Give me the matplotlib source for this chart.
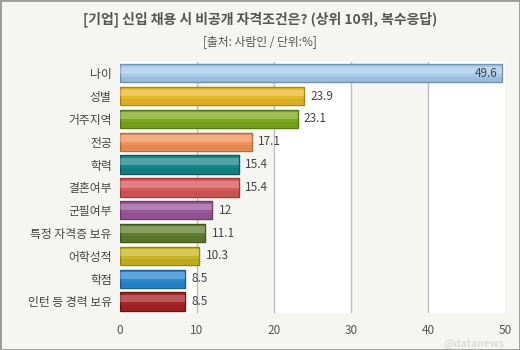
import numpy as np
import matplotlib
matplotlib.use("Agg")
import matplotlib.pyplot as plt

plt.rcParams['font.family'] = ['Noto Sans CJK KR', 'DejaVu Sans']

categories = ['나이', '성별', '거주지역', '전공', '학력', '결혼여부', '군필여부',
              '특정 자격증 보유', '어학성적', '학점', '인턴 등 경력 보유']
values = [49.6, 23.9, 23.1, 17.1, 15.4, 15.4, 12, 11.1, 10.3, 8.5, 8.5]
value_labels = ['49.6', '23.9', '23.1', '17.1', '15.4', '15.4', '12', '11.1', '10.3', '8.5', '8.5']
colors = ['#a8c8e8', '#e8b82c', '#7ca81c', '#f0925a', '#14868a', '#d65858',
          '#985898', '#5e7e2c', '#c8b424', '#2888d0', '#a42428']
edges = ['#6f93b5', '#b08410', '#567a0c', '#c06a38', '#0c5a5c', '#a43838',
         '#6c3a6c', '#3e5a1a', '#948410', '#185f98', '#701418']

bg = '#f5f5f2'
fig = plt.figure(figsize=(5.2, 3.5), dpi=100, facecolor=bg)
ax = fig.add_axes([0.2308, 0.106, 0.740, 0.717])
ax.set_facecolor('white')

# alternating bands
for lo in (10, 30):
    ax.axvspan(lo, lo + 10, color=bg, zorder=0, lw=0)
for x in (10, 20, 30, 40):
    ax.axvline(x, color='#bdbdbd', lw=1, zorder=1)

y = np.arange(len(categories))
ax.barh(y, values, height=0.8, color=colors, edgecolor=edges, linewidth=1, zorder=2)
# glossy highlight
ax.barh(y - 0.14, values, height=0.3, color='white', alpha=0.25, lw=0, zorder=3)
ax.barh(y + 0.25, values, height=0.22, color='black', alpha=0.06, lw=0, zorder=3)

for yi, v, lab in zip(y, values, value_labels):
    if v > 45:
        ax.text(v - 0.6, yi, lab, ha='right', va='center', fontsize=8.5, color='#444444', zorder=4)
    else:
        ax.text(v + 0.8, yi, lab, ha='left', va='center', fontsize=8.5, color='#444444', zorder=4)

ax.set_xlim(0, 50)
ax.set_ylim(len(categories) - 0.5, -0.5)
ax.set_xticks([0, 10, 20, 30, 40, 50])
ax.set_yticks(y)
ax.set_yticklabels(categories, fontsize=8.5, color='#444444')
ax.tick_params(axis='x', labelsize=8.5, colors='#555555', length=0, pad=8)
ax.tick_params(axis='y', length=0, pad=6)
for s in ax.spines.values():
    s.set_visible(False)

fig.text(0.5, 0.945, '[기업] 신입 채용 시 비공개 자격조건은? (상위 10위, 복수응답)',
         ha='center', va='center', fontsize=10, fontweight='bold', color='#555555')
fig.text(0.5, 0.88, '[출처: 사람인 / 단위:%]', ha='center', va='center',
         fontsize=8.5, color='#555555')
fig.text(0.97, 0.018, '@datanews', ha='right', va='center', fontsize=7.5,
         color='#dddddd', fontweight='bold')

border = plt.Rectangle((0, 0), 1, 1, transform=fig.transFigure, fill=False,
                       edgecolor='#999999', lw=2)
fig.patches.append(border)

fig.savefig('out.png', dpi=100, facecolor=bg)
